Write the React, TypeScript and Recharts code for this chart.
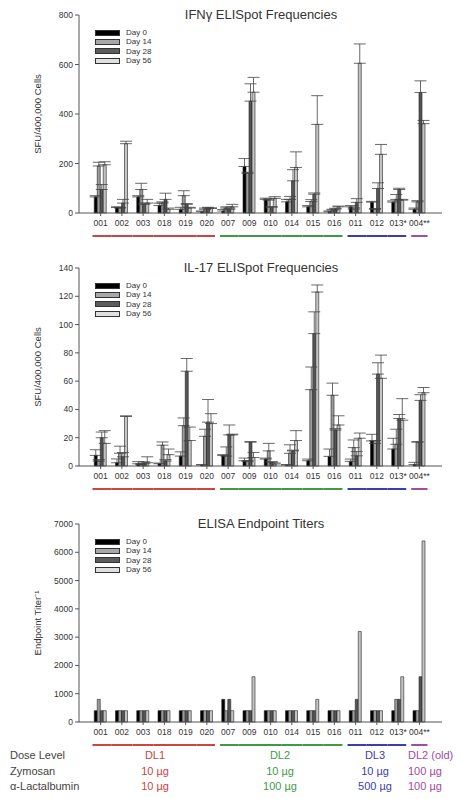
import { BarChart, Bar, XAxis, YAxis, ErrorBar, Legend } from "recharts";

// subjects and their dose-level group (0 = DL1, 1 = DL2, 2 = DL3, 3 = DL2 old)
const subjects = ["001", "002", "003", "018", "019", "020", "007", "009", "010", "014", "015", "016", "011", "012", "013*", "004**"];
const groupOf = [0, 0, 0, 0, 0, 0, 1, 1, 1, 1, 1, 1, 2, 2, 2, 3];

const dayNames = ["Day 0", "Day 14", "Day 28", "Day 56"];
const dayColors = ["#000000", "#9c9c9c", "#555555", "#c4c4c4"];

// IFNg ELISpot (SFU / 400,000 cells) + upper error
const ifnDay0 = [65, 22, 65, 30, 15, 5, 8, 188, 55, 45, 25, 5, 25, 44, 44, 15];
const ifnDay0Err = [5, 3, 5, 10, 8, 3, 6, 32, 5, 10, 5, 3, 5, 3, 5, 5];
const ifnDay14 = [190, 20, 95, 40, 70, 15, 20, 160, 52, 55, 46, 12, 16, 15, 55, 45];
const ifnDay14Err = [15, 3, 25, 5, 20, 5, 5, 5, 5, 12, 8, 3, 5, 3, 20, 5];
const ifnDay28 = [95, 40, 35, 55, 35, 20, 15, 452, 23, 130, 76, 16, 43, 99, 95, 487];
const ifnDay28Err = [20, 15, 5, 25, 3, 3, 5, 70, 3, 45, 5, 3, 15, 23, 5, 47];
const ifnDay56 = [195, 280, 40, 15, 20, 18, 25, 488, 59, 184, 358, 25, 605, 237, 52, 361];
const ifnDay56Err = [12, 10, 15, 5, 3, 3, 10, 60, 7, 63, 116, 3, 78, 40, 3, 13];

// IL-17 ELISpot
const il17Day0 = [7.5, 2.3, 1.6, 1.6, 7, 0.7, 7.5, 3.7, 4.9, 0.7, 3.7, 6.8, 3.3, 17.7, 12, 1];
const il17Day0Err = [4, 2.7, 1.5, 0.5, 3, 0.3, 0.5, 1.9, 0.7, 0.3, 1.2, 5.2, 1.6, 4.7, 7.6, 1.6];
const il17Day14 = [3.5, 9, 1, 14.7, 28.5, 21, 7, 3.3, 10.7, 9, 54, 50, 13, 16, 15.4, 16.8];
const il17Day14Err = [1, 5, 0.5, 2.3, 5.5, 5, 6.5, 0.5, 5.3, 6, 16, 8.6, 5.4, 2, 10.6, 0.5];
const il17Day28 = [20, 6.5, 2, 3.5, 67, 31, 22, 16.8, 2.6, 10.7, 93.6, 25.4, 7.2, 65, 33.6, 46.4];
const il17Day28Err = [4, 3, 1, 1, 9, 16, 7, 0.5, 0.5, 0.5, 15.4, 1, 3, 8, 2.8, 4];
const il17Day56 = [16, 35, 2.3, 8, 18, 30, 22, 6, 1.4, 18, 123, 29, 19.6, 62, 32.4, 51.8];
const il17Day56Err = [9, 0.5, 4.2, 4, 9.5, 7, 0.5, 3.6, 0.7, 7, 5, 6.5, 3.7, 16.4, 15.2, 3.7];

// ELISA endpoint titers
const elisaDay0 = [400, 400, 400, 400, 400, 400, 800, 400, 400, 400, 400, 400, 400, 400, 400, 400];
const elisaDay14 = [800, 400, 400, 400, 400, 400, 400, 400, 400, 400, 400, 400, 400, 400, 800, 400];
const elisaDay28 = [400, 400, 400, 400, 400, 400, 800, 400, 400, 400, 400, 400, 800, 400, 800, 1600];
const elisaDay56 = [400, 400, 400, 400, 400, 400, 400, 1600, 400, 400, 800, 400, 3200, 400, 1600, 6400];

// dose table
const groupColors = ["#cc4444", "#3f9a48", "#3c3cb4", "#a04ca0"];
const doseLevels = ["DL1", "DL2", "DL3", "DL2 (old)"];
const zymosan = ["10 µg", "10 µg", "10 µg", "100 µg"];
const lactalbumin = ["10 µg", "100 µg", "500 µg", "100 µg"];

const ifnTicks = [0, 200, 400, 600, 800];
const il17Ticks = [0, 20, 40, 60, 80, 100, 120, 140];
const elisaTicks = [0, 1000, 2000, 3000, 4000, 5000, 6000, 7000];

const FONT = "'Liberation Sans', Arial, sans-serif";
const W = 461;
const PLOT_LEFT = 79;
const PLOT_RIGHT = 442;
const PAD_L = 11;
const PAD_R = 12;
const BAND = (PLOT_RIGHT - PLOT_LEFT - PAD_L - PAD_R) / subjects.length;

const build = (a: number[], b: number[], c: number[], d: number[], ea?: number[], eb?: number[], ec?: number[], ed?: number[]) =>
  subjects.map((s, i) => ({
    subject: s,
    d0: a[i], d14: b[i], d28: c[i], d56: d[i],
    e0: ea ? [0, ea[i]] : undefined,
    e14: eb ? [0, eb[i]] : undefined,
    e28: ec ? [0, ec[i]] : undefined,
    e56: ed ? [0, ed[i]] : undefined,
  }));

const ifnData = build(ifnDay0, ifnDay14, ifnDay28, ifnDay56, ifnDay0Err, ifnDay14Err, ifnDay28Err, ifnDay56Err);
const il17Data = build(il17Day0, il17Day14, il17Day28, il17Day56, il17Day0Err, il17Day14Err, il17Day28Err, il17Day56Err);
const elisaData = build(elisaDay0, elisaDay14, elisaDay28, elisaDay56);

const SubjectTick = ({ x, y, payload, index }: any) => {
  const g = groupOf[index];
  const first = index === 0 || groupOf[index - 1] !== g;
  const last = index === subjects.length - 1 || groupOf[index + 1] !== g;
  const half = BAND / 2;
  return (
    <g>
      <text x={x} y={y + 8} textAnchor="middle" fontSize={8.5} fill="#333" fontFamily={FONT}>
        {payload.value}
      </text>
      <line
        x1={x - half + (first ? 2.5 : 0)}
        x2={x + half - (last ? 2.5 : 0)}
        y1={y + 18}
        y2={y + 18}
        stroke={groupColors[g]}
        strokeWidth={2}
      />
    </g>
  );
};

const legendSwatch = ["#000000", "#a8a8a8", "#5c5c5c", "#e0e0e0"];

const DayLegend = () => (
  <div style={{ fontFamily: FONT, fontSize: 8, color: "#333", lineHeight: "9.3px" }}>
    {dayNames.map((n, i) => (
      <div key={n} style={{ display: "flex", alignItems: "center", height: 9.3 }}>
        <span style={{ width: 23, height: 4, background: legendSwatch[i], border: "1px solid #333", marginRight: 6 }} />
        {n}
      </div>
    ))}
  </div>
);

const keys = ["d0", "d14", "d28", "d56"];
const errKeys = ["e0", "e14", "e28", "e56"];

interface PanelProps {
  data: any[];
  title: string;
  yLabel: string;
  ticks: number[];
  top: number;
  errors: boolean;
}

const Panel = ({ data, title, yLabel, ticks, top, errors }: PanelProps) => {
  const marginTop = 15;
  const height = 243;
  return (
    <div style={{ position: "absolute", left: 0, top, width: W, height }}>
      <BarChart
        width={W}
        height={height}
        data={data}
        margin={{ top: marginTop, right: W - PLOT_RIGHT, left: 0, bottom: 0 }}
        barCategoryGap="20%"
        barGap={0}
      >
        <XAxis
          dataKey="subject"
          height={30}
          interval={0}
          padding={{ left: PAD_L, right: PAD_R }}
          tick={<SubjectTick />}
          tickSize={3}
          axisLine={{ stroke: "#555" }}
          tickLine={{ stroke: "#555" }}
        />
        <YAxis
          width={PLOT_LEFT}
          domain={[ticks[0], ticks[ticks.length - 1]]}
          ticks={ticks}
          interval={0}
          tickSize={4}
          tick={{ fontSize: 8.5, fill: "#333", fontFamily: FONT }}
          axisLine={{ stroke: "#555" }}
          tickLine={{ stroke: "#555" }}
          label={{
            value: yLabel,
            angle: -90,
            position: "insideLeft",
            offset: 38,
            style: { textAnchor: "middle", fontSize: 9.5, fill: "#333", fontFamily: FONT },
          }}
        />
        <Legend
          layout="vertical"
          align="center"
          verticalAlign="middle"
          content={<DayLegend />}
          wrapperStyle={{ left: 95, top: marginTop + 13, width: 80, height: 40 }}
        />
        {keys.map((k, i) => (
          <Bar
            key={k}
            dataKey={k}
            name={dayNames[i]}
            fill={dayColors[i]}
            stroke="#222"
            strokeWidth={0.6}
            isAnimationActive={false}
          >
            {errors && (
              <ErrorBar dataKey={errKeys[i]} width={6} stroke="#444" strokeWidth={0.8} />
            )}
          </Bar>
        ))}
      </BarChart>
      <div
        style={{
          position: "absolute",
          left: 160,
          width: 202,
          top: marginTop - 8,
          textAlign: "center",
          fontFamily: FONT,
          fontSize: 13,
          color: "#333",
        }}
      >
        {title}
      </div>
    </div>
  );
};

const colLeft = [110, 240, 340, 408];
const colWidth = [90, 80, 70, 60];

export default function App() {
  const rowStyle = (top: number) => ({ position: "absolute" as const, top, left: 0, width: W, height: 14 });
  const cell = (i: number, text: string) => (
    <div
      key={i}
      style={{
        position: "absolute",
        left: colLeft[i],
        width: colWidth[i],
        textAlign: i === 3 ? "left" : "center",
        color: groupColors[i],
      }}
    >
      {text}
    </div>
  );
  return (
    <div style={{ position: "absolute", left: 0, top: 0, width: W, height: 799, background: "#fff", fontFamily: FONT }}>
      <Panel data={ifnData} title="IFNγ ELISpot Frequencies" yLabel="SFU/400,000 Cells" ticks={ifnTicks} top={0} errors />
      <Panel data={il17Data} title="IL-17 ELISpot Frequencies" yLabel="SFU/400,000 Cells" ticks={il17Ticks} top={253} errors />
      <Panel data={elisaData} title="ELISA Endpoint Titers" yLabel="Endpoint Titer⁻¹" ticks={elisaTicks} top={509} errors={false} />
      <div style={{ position: "absolute", top: 749, left: 0, width: W, fontSize: 11, color: "#444" }}>
        <div style={rowStyle(0)}>
          <div style={{ position: "absolute", left: 10 }}>Dose Level</div>
          {doseLevels.map((t, i) => cell(i, t))}
        </div>
        <div style={rowStyle(16)}>
          <div style={{ position: "absolute", left: 10 }}>Zymosan</div>
          {zymosan.map((t, i) => cell(i, t))}
        </div>
        <div style={rowStyle(31)}>
          <div style={{ position: "absolute", left: 10 }}>α-Lactalbumin</div>
          {lactalbumin.map((t, i) => cell(i, t))}
        </div>
      </div>
    </div>
  );
}
